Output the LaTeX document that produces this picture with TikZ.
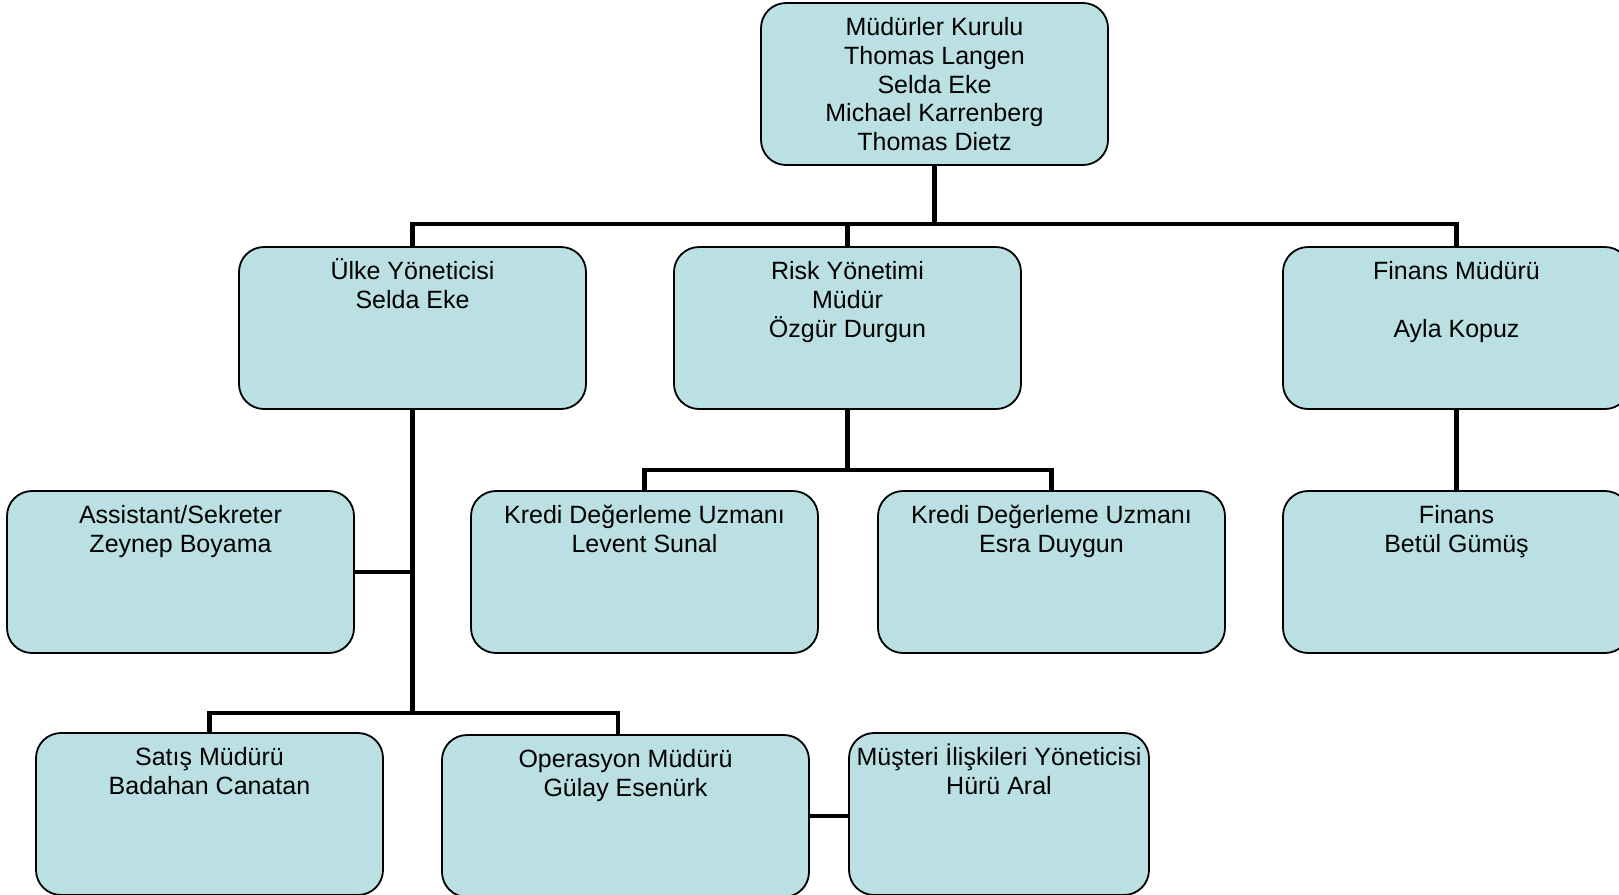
\documentclass[tikz,border=0pt]{standalone}
\usepackage{fontspec}
\setmainfont{Liberation Sans}
\usetikzlibrary{calc}
\definecolor{boxfill}{RGB}{187,224,227}
\newcommand\ystrut{\rule{0pt}{12pt}}
\begin{document}
\begin{tikzpicture}[x=0.5pt,y=-0.5pt,
  box/.style={draw=black, line width=0.9pt, fill=boxfill, rounded corners=12.5pt, anchor=north west,
    minimum width=173.5pt, minimum height=81pt, inner sep=0pt, outer sep=0pt},
  lbl/.style={anchor=north, yshift=-4.2pt, align=center, inner sep=0pt, font=\fontsize{12.5}{14.3}\selectfont},
  conn/.style={line width=2.4pt}]
\useasboundingbox (0,0) rectangle (1619,895);
\clip (0,0) rectangle (1619,895);
\fill[white] (0,0) rectangle (1619,895);

\node[box, label={[lbl]north:\ystrut Müdürler Kurulu\\Thomas Langen\\Selda Eke\\Michael Karrenberg\\Thomas Dietz}] (top) at (761,3) {};
\node[box, label={[lbl]north:\ystrut Ülke Yöneticisi\\Selda Eke}] (ulke) at (239,247) {};
\node[box, label={[lbl]north:\ystrut Risk Yönetimi\\Müdür\\Özgür Durgun}] (risk) at (674,247) {};
\node[box, label={[lbl]north:\ystrut Finans Müdürü\\\mbox{}\\Ayla Kopuz}] (fin) at (1283,247) {};
\node[box, label={[lbl]north:\ystrut Assistant/Sekreter\\Zeynep Boyama}] (asst) at (7,491) {};
\node[box, label={[lbl]north:\ystrut Kredi Değerleme Uzmanı\\Levent Sunal}] (kr1) at (471,491) {};
\node[box, label={[lbl]north:\ystrut Kredi Değerleme Uzmanı\\Esra Duygun}] (kr2) at (878,491) {};
\node[box, label={[lbl]north:\ystrut Finans\\Betül Gümüş}] (finans) at (1283,491) {};
\node[box, label={[lbl]north:\ystrut Satış Müdürü\\Badahan Canatan}] (satis) at (36,733) {};
\node[box, minimum width=183.5pt, label={[lbl]north:\ystrut Operasyon Müdürü\\Gülay Esenürk}] (oper) at (442,735) {};
\node[box, minimum width=150pt, label={[lbl]north:\ystrut Müşteri İlişkileri Yöneticisi\\Hürü Aral}] (must) at (849,733) {};

\coordinate (b1) at (934.5,224);
\draw[conn] (top.south) -- (b1);
\draw[conn] (ulke.north) |- (b1) -| (fin.north);
\draw[conn] (risk.north) -- (risk.north |- b1);

\coordinate (b2) at (847.5,470);
\draw[conn] (risk.south) -- (b2);
\draw[conn] (kr1.north) |- (b2) -| (kr2.north);

\draw[conn] (fin.south) -- (finans.north);

\coordinate (b3) at (412.5,713);
\coordinate (optop) at (618,735);
\draw[conn] (ulke.south) -- (b3);
\draw[conn] (asst.east) -- (asst.east -| b3);
\draw[conn] (satis.north) |- (b3) -| (optop);
\draw[conn] (oper.east) -- (oper.east -| must.west);
\end{tikzpicture}
\end{document}
